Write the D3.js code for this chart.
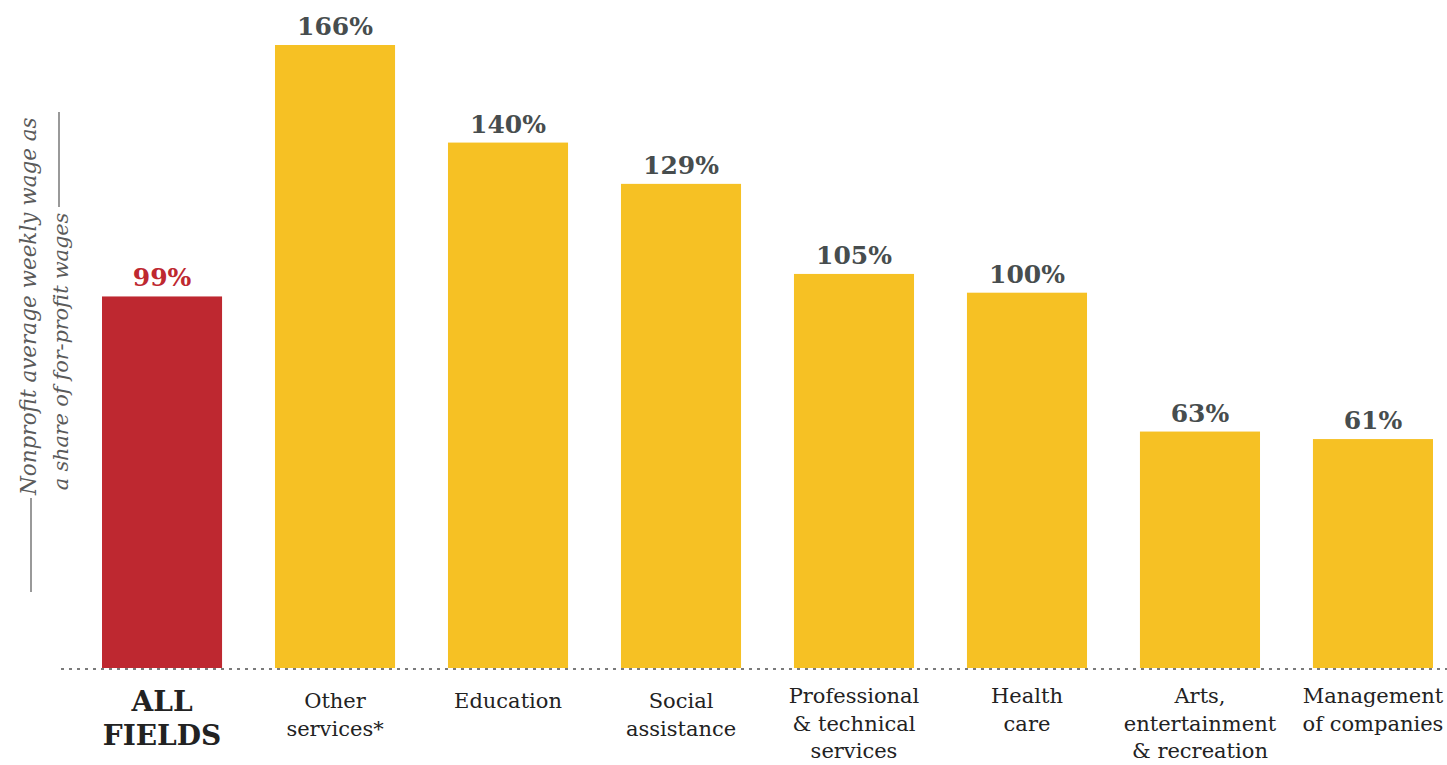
<!DOCTYPE html>
<html>
<head>
<meta charset="utf-8">
<script src="https://cdn.jsdelivr.net/npm/d3@7"></script>
<style>
  html, body { margin: 0; padding: 0; background: #fff; }
  svg { display: block; }
</style>
</head>
<body>
<svg id="chart" width="1447" height="765"></svg>
<script>
// Nonprofit weekly wage as a share of for-profit wages, by field
const categories = [
  ["ALL", "FIELDS"],
  ["Other", "services*"],
  ["Education"],
  ["Social", "assistance"],
  ["Professional", "& technical", "services"],
  ["Health", "care"],
  ["Arts,", "entertainment", "& recreation"],
  ["Management", "of companies"]
];
const values = [99, 166, 140, 129, 105, 100, 63, 61];
const valueLabels = ["99%", "166%", "140%", "129%", "105%", "100%", "63%", "61%"];
const titleLines = ["Nonprofit average weekly wage as", "a share of for-profit wages"];

const RED = "#be2830", YELLOW = "#f6c124";
const SERIF = "'DejaVu Serif', 'Liberation Serif', serif";

const svg = d3.select("#chart");
const baseY = 668;

const x = d3.scaleBand()
  .domain(d3.range(values.length))
  .range([102, 1433])
  .paddingInner(0.306)
  .paddingOuter(0);

const y = d3.scaleLinear().domain([0, 166]).range([baseY, 45]);

// bars
svg.append("g").selectAll("rect")
  .data(values)
  .join("rect")
  .attr("x", (d, i) => x(i))
  .attr("y", d => y(d))
  .attr("width", x.bandwidth())
  .attr("height", d => baseY - y(d))
  .attr("fill", (d, i) => i === 0 ? RED : YELLOW);

// dotted baseline
svg.append("line")
  .attr("x1", 61).attr("x2", 1447)
  .attr("y1", baseY + 1).attr("y2", baseY + 1)
  .attr("stroke", "#7a7a7a")
  .attr("stroke-width", 2)
  .attr("stroke-dasharray", "3,5");

// value labels above bars
svg.append("g").selectAll("text")
  .data(values)
  .join("text")
  .attr("x", (d, i) => x(i) + x.bandwidth() / 2)
  .attr("y", d => y(d) - 10)
  .attr("text-anchor", "middle")
  .attr("font-family", SERIF)
  .attr("font-weight", "bold")
  .attr("font-size", 25)
  .attr("fill", (d, i) => i === 0 ? RED : "#474d4e")
  .text((d, i) => valueLabels[i]);

// category labels
const cat = svg.append("g").selectAll("text")
  .data(categories)
  .join("text")
  .attr("text-anchor", "middle")
  .attr("font-family", SERIF)
  .attr("fill", "#222")
  .attr("font-size", (d, i) => i === 0 ? 28 : 21)
  .attr("font-weight", (d, i) => i === 0 ? "bold" : "normal")
  .attr("transform", (d, i) => {
    const top = i === 0 ? 711 : (i >= 4 ? 703 : 708);
    return `translate(${x(i) + x.bandwidth() / 2},${top})`;
  });

cat.selectAll("tspan")
  .data((d, i) => d.map(t => ({ t, big: i === 0 })))
  .join("tspan")
  .attr("x", 0)
  .attr("y", (d, j) => j * (d.big ? 34 : 27.5))
  .text(d => d.t);

// rotated axis title with bracket rules
const title = svg.append("g").attr("transform", "rotate(-90)");
title.append("text")
  .attr("x", -495).attr("y", 36)
  .attr("text-anchor", "start")
  .attr("font-family", SERIF)
  .attr("font-style", "italic")
  .attr("font-size", 21.5)
  .attr("fill", "#5a5a5a")
  .text(titleLines[0]);
title.append("text")
  .attr("x", -213).attr("y", 68)
  .attr("text-anchor", "end")
  .attr("font-family", SERIF)
  .attr("font-style", "italic")
  .attr("font-size", 21)
  .attr("letter-spacing", -0.2)
  .attr("fill", "#5a5a5a")
  .text(titleLines[1]);

svg.append("line")
  .attr("x1", 31).attr("x2", 31).attr("y1", 498).attr("y2", 592)
  .attr("stroke", "#777").attr("stroke-width", 1.5);
svg.append("line")
  .attr("x1", 59).attr("x2", 59).attr("y1", 112).attr("y2", 207)
  .attr("stroke", "#777").attr("stroke-width", 1.5);
</script>
</body>
</html>
